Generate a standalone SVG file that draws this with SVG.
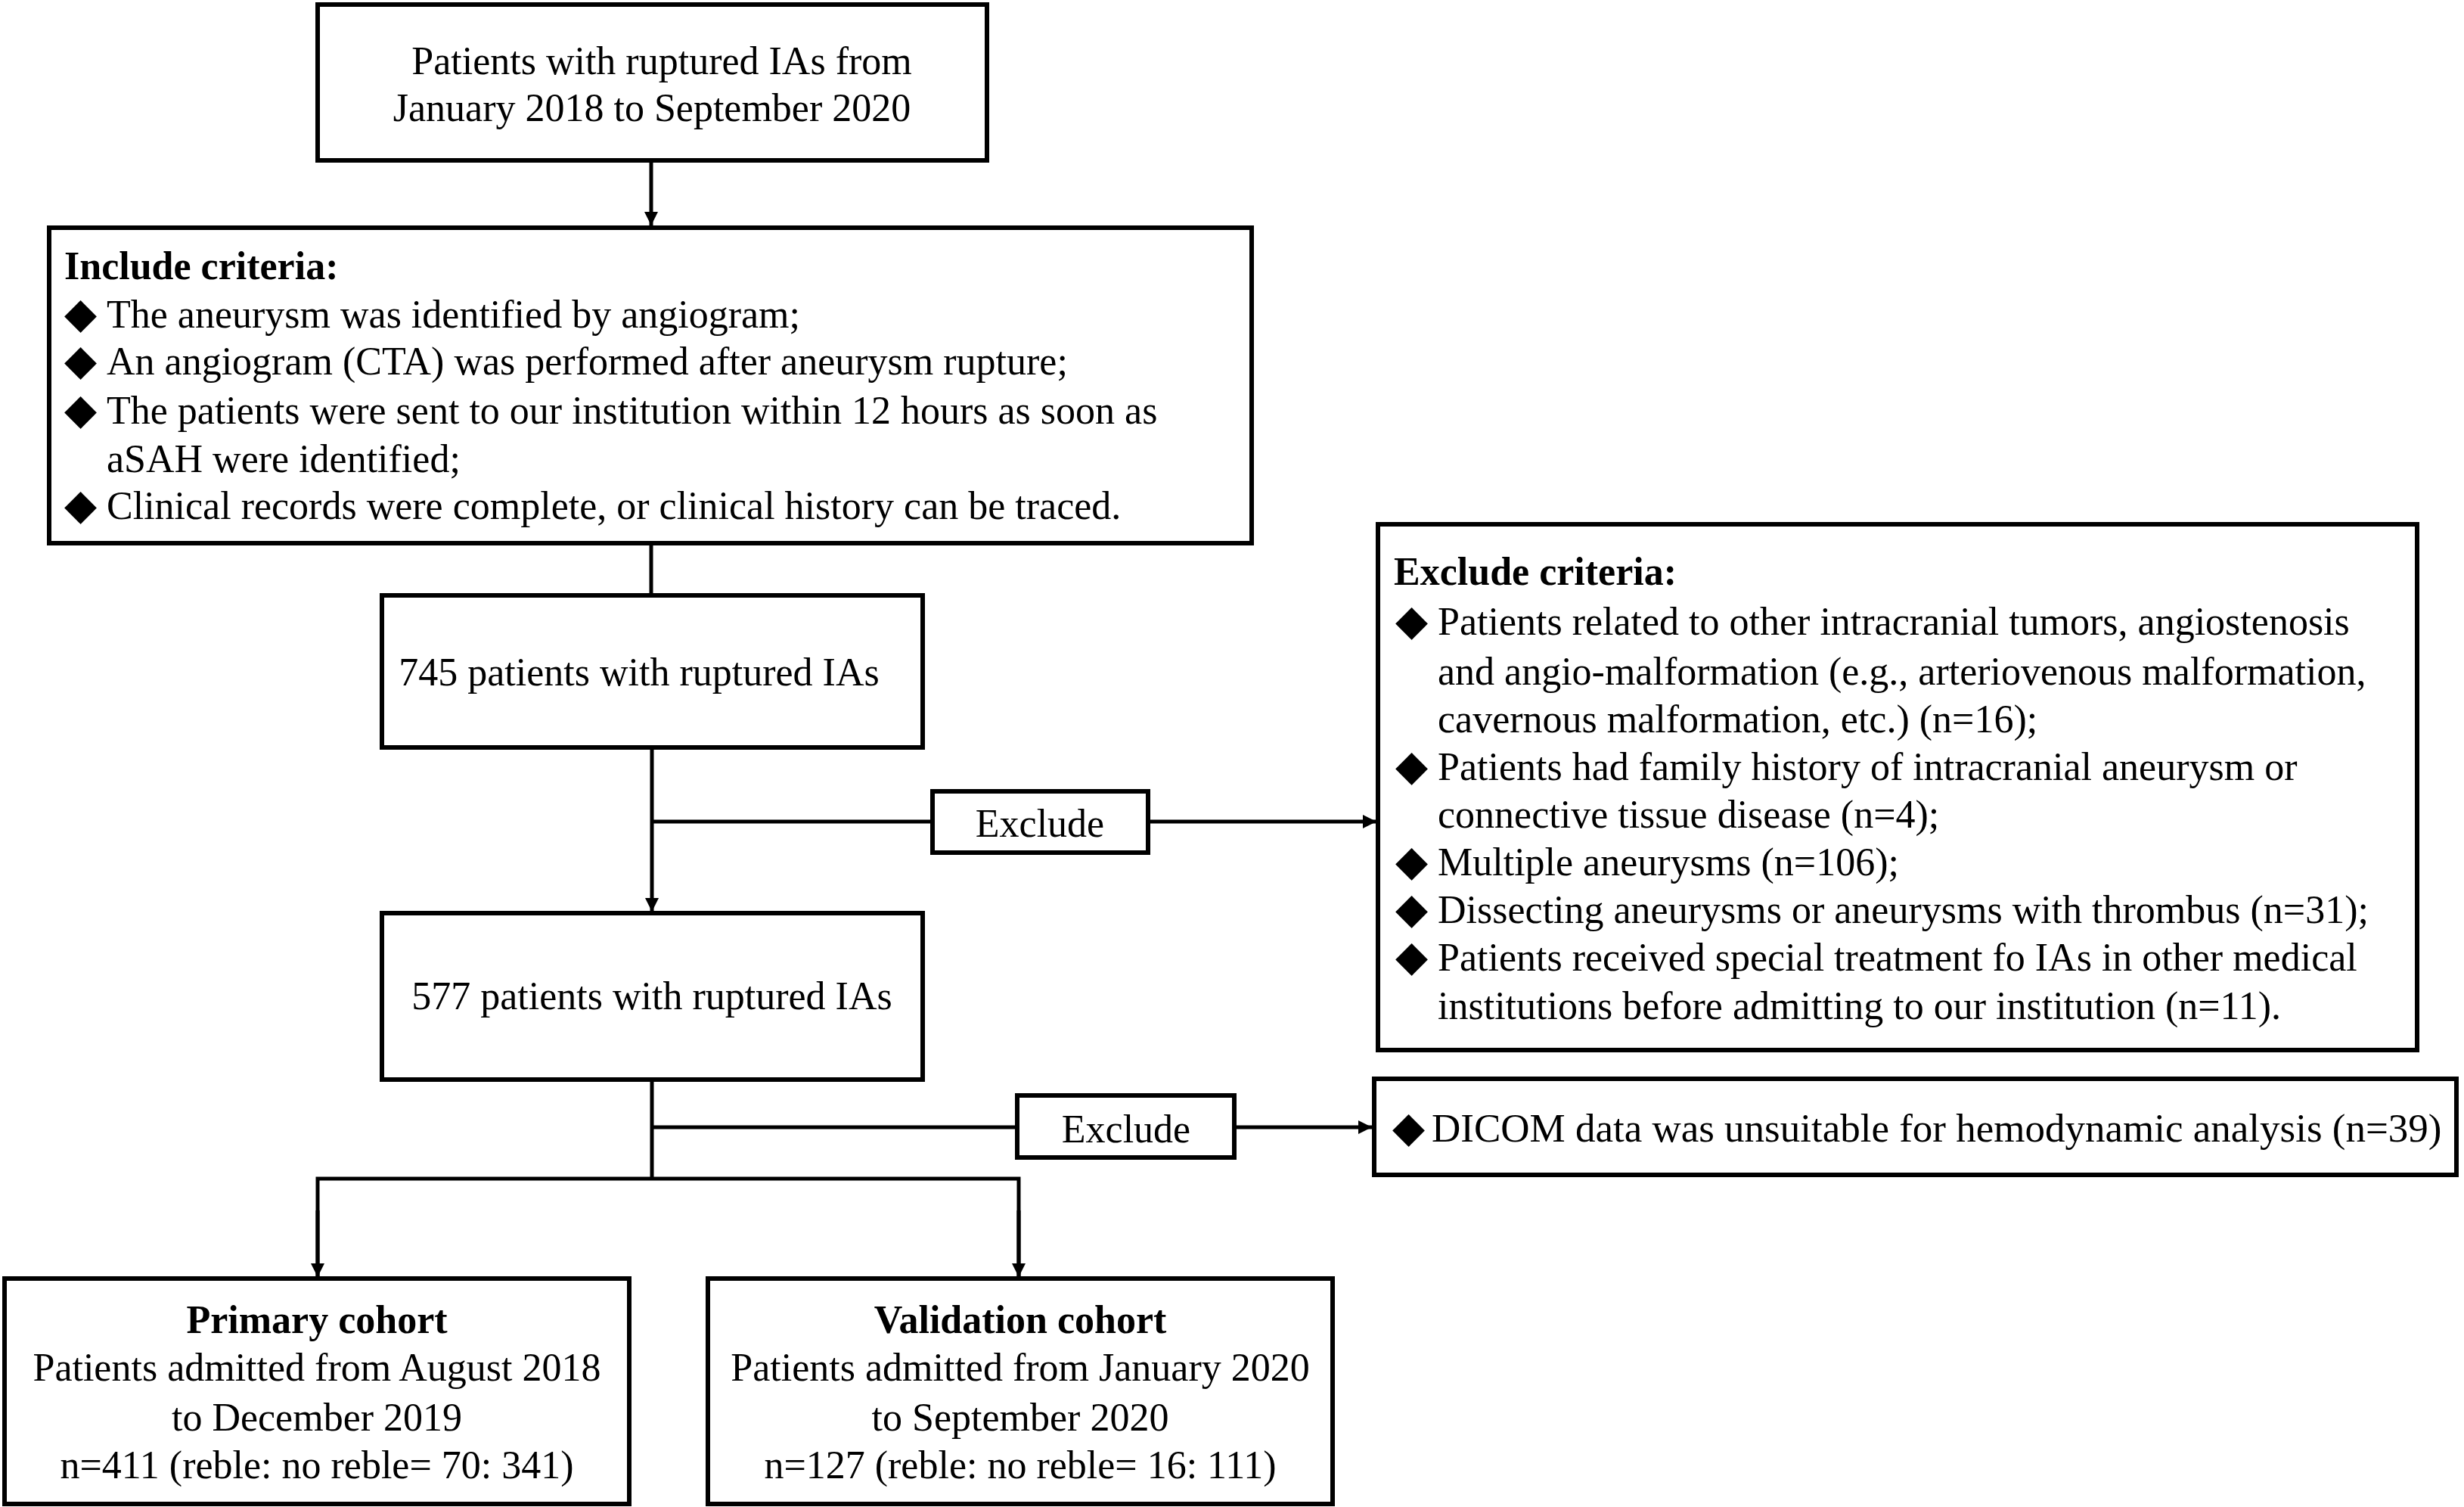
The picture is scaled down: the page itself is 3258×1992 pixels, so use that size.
<svg xmlns="http://www.w3.org/2000/svg" width="3258" height="1992" viewBox="0 0 3258 1992">
<style>
.box{fill:#fff;stroke:#000;stroke-width:6}
.ln{fill:none;stroke:#000;stroke-width:5}
text{font-family:"Liberation Serif","Times New Roman",serif;font-size:52px;fill:#000}
.b{font-weight:bold}
.m{text-anchor:middle}
.dm{font-family:"DejaVu Sans",sans-serif;font-size:56px}
</style>
<defs>
<marker id="ah" markerUnits="userSpaceOnUse" markerWidth="18" markerHeight="18" refX="18" refY="9" orient="auto">
<path d="M0,0 L18,9 L0,18 z" fill="#000"/>
</marker>
</defs>
<rect width="3258" height="1992" fill="#fff"/>
<g id="connectors">
<line class="ln" x1="861" y1="212" x2="861" y2="298" marker-end="url(#ah)"/>
<line class="ln" x1="861" y1="718" x2="861" y2="787"/>
<line class="ln" x1="862" y1="988" x2="862" y2="1205" marker-end="url(#ah)"/>
<line class="ln" x1="862" y1="1086" x2="1233" y2="1086"/>
<line class="ln" x1="1518" y1="1086" x2="1820" y2="1086" marker-end="url(#ah)"/>
<line class="ln" x1="862" y1="1427" x2="862" y2="1558"/>
<line class="ln" x1="862" y1="1490" x2="1345" y2="1490"/>
<line class="ln" x1="1632" y1="1490" x2="1814" y2="1490" marker-end="url(#ah)"/>
<polyline class="ln" points="420,1688 420,1558 1347,1558 1347,1688"/>
<line class="ln" x1="420" y1="1600" x2="420" y2="1688" marker-end="url(#ah)"/>
<line class="ln" x1="1347" y1="1600" x2="1347" y2="1688" marker-end="url(#ah)"/>
</g>
<g id="n1">
<rect class="box" x="420" y="6" width="885" height="206"/>
<text class="m" x="875" y="98">Patients with ruptured IAs from</text>
<text class="m" x="862" y="160">January 2018 to September 2020</text>
</g>
<g id="n2">
<rect class="box" x="65" y="301" width="1590" height="417"/>
<text class="b" x="85" y="369">Include criteria:</text>
<text x="85" y="433"><tspan class="dm">◆</tspan><tspan x="141">The aneurysm was identified by angiogram;</tspan></text>
<text x="85" y="495"><tspan class="dm">◆</tspan><tspan x="141">An angiogram (CTA) was performed after aneurysm rupture;</tspan></text>
<text x="85" y="560"><tspan class="dm">◆</tspan><tspan x="141">The patients were sent to our institution within 12 hours as soon as</tspan></text>
<text x="141" y="624">aSAH were identified;</text>
<text x="85" y="686"><tspan class="dm">◆</tspan><tspan x="141">Clinical records were complete, or clinical history can be traced.</tspan></text>
</g>
<g id="n3">
<rect class="box" x="505" y="787" width="715" height="201"/>
<text class="m" x="845" y="906">745 patients with ruptured IAs</text>
</g>
<g id="n4">
<rect class="box" x="1233" y="1046" width="285" height="81"/>
<text class="m" x="1375" y="1106">Exclude</text>
</g>
<g id="n5">
<rect class="box" x="1822" y="693" width="1374" height="695"/>
<text class="b" x="1843" y="773">Exclude criteria:</text>
<text x="1845" y="839"><tspan class="dm">◆</tspan><tspan x="1901">Patients related to other intracranial tumors, angiostenosis</tspan></text>
<text x="1901" y="905">and angio-malformation (e.g., arteriovenous malformation,</text>
<text x="1901" y="968">cavernous malformation, etc.) (n=16);</text>
<text x="1845" y="1031"><tspan class="dm">◆</tspan><tspan x="1901">Patients had family history of intracranial aneurysm or</tspan></text>
<text x="1901" y="1094">connective tissue disease (n=4);</text>
<text x="1845" y="1157"><tspan class="dm">◆</tspan><tspan x="1901">Multiple aneurysms (n=106);</tspan></text>
<text x="1845" y="1220"><tspan class="dm">◆</tspan><tspan x="1901">Dissecting aneurysms or aneurysms with thrombus (n=31);</tspan></text>
<text x="1845" y="1283"><tspan class="dm">◆</tspan><tspan x="1901">Patients received special treatment fo IAs in other medical</tspan></text>
<text x="1901" y="1347">institutions before admitting to our institution (n=11).</text>
</g>
<g id="n6">
<rect class="box" x="505" y="1207" width="715" height="220"/>
<text class="m" x="862" y="1334">577 patients with ruptured IAs</text>
</g>
<g id="n7">
<rect class="box" x="1345" y="1448" width="287" height="82"/>
<text class="m" x="1489" y="1510">Exclude</text>
</g>
<g id="n8">
<rect class="box" x="1817" y="1426" width="1431" height="127"/>
<text x="1841" y="1509" style="font-size:53px"><tspan class="dm">◆</tspan><tspan x="1893">DICOM data was unsuitable for hemodynamic analysis (n=39)</tspan></text>
</g>
<g id="n9">
<rect class="box" x="6" y="1690" width="826" height="298"/>
<text class="b m" x="419" y="1762">Primary cohort</text>
<text class="m" x="419" y="1825">Patients admitted from August 2018</text>
<text class="m" x="419" y="1891">to December 2019</text>
<text class="m" x="419" y="1954">n=411 (reble: no reble= 70: 341)</text>
</g>
<g id="n10">
<rect class="box" x="936" y="1690" width="826" height="298"/>
<text class="b m" x="1349" y="1762">Validation cohort</text>
<text class="m" x="1349" y="1825">Patients admitted from January 2020</text>
<text class="m" x="1349" y="1891">to September 2020</text>
<text class="m" x="1349" y="1954">n=127 (reble: no reble= 16: 111)</text>
</g>
</svg>
